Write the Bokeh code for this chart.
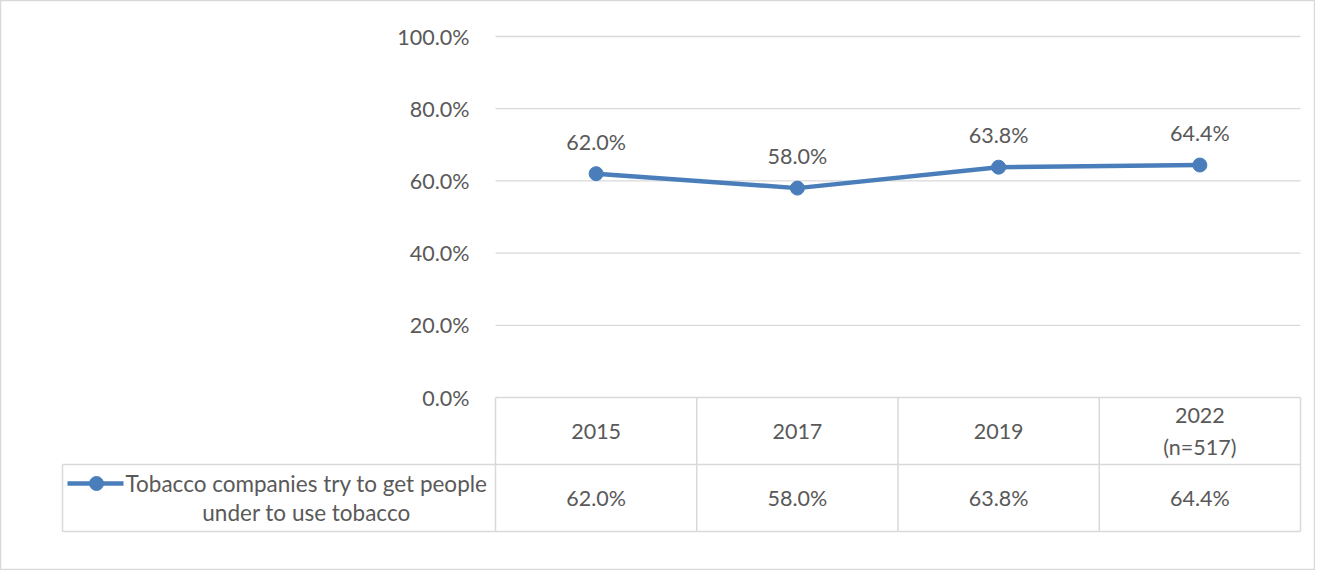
from bokeh.plotting import figure
from bokeh.models import Range1d, LinearAxis, FixedTicker, PrintfTickFormatter
from bokeh.core.properties import value
from bokeh.embed import file_html
from bokeh.resources import INLINE

# ---- data ----
years = ["2015", "2017", "2019", "2022\n(n=517)"]
pct = [62.0, 58.0, 63.8, 64.4]
series_name = "Tobacco companies try to get people\nunder to use tobacco"
y_ticks = [0, 20, 40, 60, 80, 100]

# ---- style ----
FONT = "Lato"
FS = "21.5px"
FS_KEY = "22.5px"
TXT = "#595959"
GRID = "#d9d9d9"
BLUE = "#4a7ebb"

n = len(years)
idx = list(range(n))
px_x = 201.25  # px per category
px_y = 3.61    # px per percent
row1 = -67 / px_y
row2 = -134 / px_y
left_cell = -0.5 - 433 / px_x

W, H = 1315, 570
p = figure(width=W, height=H,
           x_range=Range1d(-0.5 - 495 / px_x, n - 0.5 + (W - 1300) / px_x),
           y_range=Range1d(-(H - 397) / px_y, 100 + 36 / px_y),
           min_border=0, output_backend="svg", toolbar_location=None,
           x_axis_location=None, y_axis_location=None)
p.grid.visible = False
p.outline_line_color = GRID
p.outline_line_width = 1.5
p.background_fill_color = "white"
p.border_fill_color = "white"

# gridlines
p.segment(x0=[-0.5] * len(y_ticks), x1=[n - 0.5] * len(y_ticks),
          y0=y_ticks, y1=y_ticks, line_color=GRID, line_width=1.3)

# y axis
yaxis = LinearAxis(fixed_location=-0.5, bounds=(0, 100),
                   ticker=FixedTicker(ticks=y_ticks),
                   formatter=PrintfTickFormatter(format="%.1f%%"))
yaxis.axis_line_color = None
yaxis.major_tick_line_color = None
yaxis.minor_tick_line_color = None
yaxis.major_label_standoff = 20
yaxis.major_label_text_font = FONT
yaxis.major_label_text_font_size = FS
yaxis.major_label_text_color = TXT
p.add_layout(yaxis, "left")

# table lines
vx = [i - 0.5 for i in range(n + 1)]
p.segment(x0=vx, x1=vx, y0=[0] * len(vx), y1=[row2] * len(vx),
          line_color=GRID, line_width=1.5)
p.segment(x0=[left_cell, left_cell, left_cell], x1=[n - 0.5, n - 0.5, left_cell],
          y0=[row1, row2, row1], y1=[row1, row2, row2],
          line_color=GRID, line_width=1.5)

# series line
p.line(x=idx, y=pct, line_color=BLUE, line_width=4.5)
p.scatter(x=idx, y=pct, size=14, fill_color=BLUE, line_color=BLUE)

# data labels
p.text(x=idx, y=pct, text=[f"{v:.1f}%" for v in pct], y_offset=-32,
       text_align="center", text_baseline="middle",
       text_font=value(FONT), text_font_size=FS, text_color=TXT)

# header row
p.text(x=idx, y=[row1 / 2] * n, text=years,
       text_align="center", text_baseline="middle", text_line_height=1.2,
       text_font=value(FONT), text_font_size=FS, text_color=TXT)

# values row
p.text(x=idx, y=[(row1 + row2) / 2] * n, text=[f"{v:.1f}%" for v in pct],
       text_align="center", text_baseline="middle",
       text_font=value(FONT), text_font_size=FS, text_color=TXT)

# legend key cell
ly = -86 / px_y
p.line(x=[left_cell + 5 / px_x, left_cell + 61 / px_x], y=[ly, ly],
       line_color=BLUE, line_width=4.5)
p.scatter(x=[left_cell + 34 / px_x], y=[ly], size=14, fill_color=BLUE, line_color=BLUE)
p.text(x=[left_cell + 244 / px_x], y=[(row1 + row2) / 2], text=[series_name],
       text_align="center", text_baseline="middle", text_line_height=1.08,
       text_font=value(FONT), text_font_size=FS_KEY, text_color=TXT)

open("out.html", "w").write(file_html(p, INLINE))
